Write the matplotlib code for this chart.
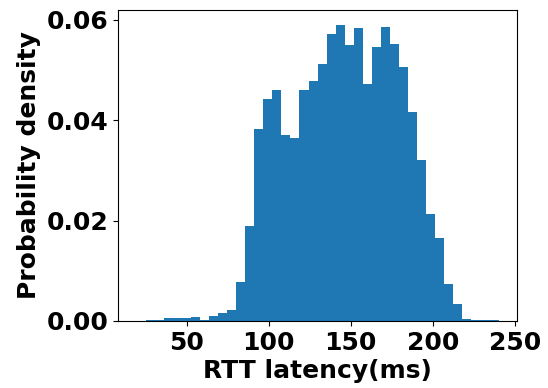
import numpy as np
import matplotlib
matplotlib.use("Agg")
import matplotlib.pyplot as plt

# bin layout (ms)
bin_start = 19.4
bin_width = 5.52
# probability density per bin, left to right
density = [
    0.00003, 0.0001, 0.0002, 0.00053, 0.00053, 0.0005, 0.0007, 0.0001, 0.0009, 0.0015,
    0.0021, 0.0077, 0.0190, 0.0383, 0.0443, 0.0461, 0.0371, 0.0365, 0.0461, 0.0479,
    0.0513, 0.0572, 0.0590, 0.0550, 0.0583, 0.0472, 0.0545, 0.0586, 0.0551, 0.0507,
    0.0417, 0.0320, 0.0214, 0.0166, 0.0073, 0.0034, 0.0003, 0.0001, 0.0002, 0.0002,
]
x_ticks = [50, 100, 150, 200, 250]
y_ticks = [0.00, 0.02, 0.04, 0.06]


def main():
    edges = bin_start + bin_width * np.arange(len(density) + 1)
    centers = (edges[:-1] + edges[1:]) / 2

    plt.rcParams['font.weight'] = 'bold'
    fig = plt.figure(figsize=(5.48, 3.88), dpi=100)
    ax = fig.add_axes([0.216, 0.173, 0.727, 0.801])
    ax.hist(centers, bins=edges, weights=density, color='#1f77b4')

    ax.set_xticks(x_ticks)
    ax.set_yticks(y_ticks)
    ax.set_yticklabels(["%.2f" % v for v in y_ticks])
    ax.tick_params(labelsize=18)
    ax.set_xlabel("RTT latency(ms)", fontsize=18, fontweight='bold', labelpad=3)
    ax.set_ylabel("Probability density", fontsize=18, fontweight='bold', labelpad=4)

    fig.savefig("out.png", dpi=100)
    plt.close(fig)


if __name__ == "__main__":
    main()
